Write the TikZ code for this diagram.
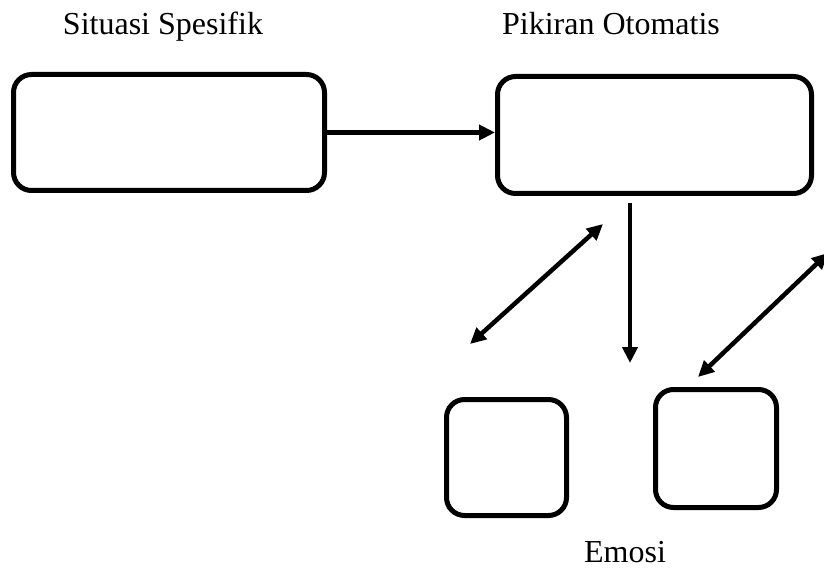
\documentclass[tikz,border=0pt]{standalone}
\usepackage{fontspec}
\setmainfont{Liberation Serif}
\usetikzlibrary{arrows.meta, calc, positioning}

\begin{document}
\begin{tikzpicture}[x=1pt, y=-1pt,
    kotak/.style={draw, line width=5pt, rounded corners=18pt, inner sep=0pt},
    label/.style={font=\fontsize{32}{38}\selectfont, anchor=base, inner sep=0pt},
    panah/.style={line width=4.5pt, -{Triangle[length=16pt, width=15pt]}},
    duapanah/.style={line width=4.5pt, {Triangle[length=16pt, width=15pt]}-{Triangle[length=16pt, width=15pt]}}]
                        \useasboundingbox (0, 0) rectangle (824, 569);
                        \node[kotak, minimum width=311pt, minimum height=116pt] (situasi) at (169, 132.5) {};
                        \node[kotak, minimum width=314pt, minimum height=117pt] (pikiran) at (654.5, 135) {};
                        \node[kotak, minimum width=120pt, minimum height=116pt] (emosi1) at (506.5, 457.5) {};
                        \node[kotak, minimum width=121pt, minimum height=118pt] (emosi2) at (716, 448.5) {};
                        \node[label] (ls) at (163, 35) {Situasi Spesifik};
                        \node[label] (lp) at (611, 35) {Pikiran Otomatis};
                        \node[label] (le) at (625, 562) {Emosi};
                        \coordinate (v1) at (630, 203);
                        \coordinate (v2) at (630, 363);
                        \coordinate (d1) at (470, 344);
                        \coordinate (d2) at (603, 224);
                        \coordinate (d3) at (698, 377);
                        \coordinate (d4) at (828, 253);
                        \draw[panah] (situasi.east) -- (situasi.east -| pikiran.west);
                        \draw[panah] (v1) -- (v2);
                        \draw[duapanah] (d1) -- (d2);
                        \draw[duapanah] (d3) -- (d4);
                    \end{tikzpicture}
\end{document}
